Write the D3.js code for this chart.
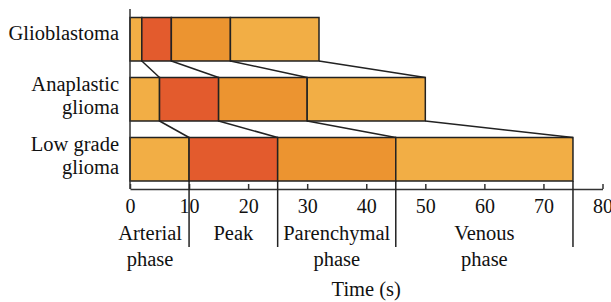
<!DOCTYPE html>
<html>
<head>
<meta charset="utf-8">
<script src="https://cdn.jsdelivr.net/npm/d3@7"></script>
<style>
  body { margin: 0; background: #fff; }
  svg text { font-family: "Liberation Serif", "Times New Roman", serif; fill: #111; }
</style>
</head>
<body>
<div id="chart"></div>
<script>
// tumour types (rows) and their label lines
const rows = ["Glioblastoma", "Anaplastic glioma", "Low grade glioma"];
const rowLabels = [["Glioblastoma"], ["Anaplastic", "glioma"], ["Low grade", "glioma"]];

// phase boundaries in seconds for each row: start, arterial end, peak end, parenchymal end, venous end
const glioblastoma = [0, 2, 7, 17, 32];
const anaplastic = [0, 5, 15, 30, 50];
const lowGrade = [0, 10, 25, 45, 75];
const boundaries = [glioblastoma, anaplastic, lowGrade];

// phases (bottom labels) and where the labels sit on the time axis
const phases = [["Arterial", "phase"], ["Peak"], ["Parenchymal", "phase"], ["Venous", "phase"]];
const phaseLabelAt = [3.4, 17.5, 35, 60];
const phaseColors = ["#f2ae45", "#e35b2d", "#ec9430", "#f2ae45"];

const xTicks = [0, 10, 20, 30, 40, 50, 60, 70, 80];

function createChart(htmlId = 'chart') {
    const W = 611, H = 302;
    const fs = "20.5px"; // label font size
    const svg = d3.select(`#${htmlId}`).append("svg")
        .attr("width", W).attr("height", H);

    const x = d3.scaleLinear().domain([0, 80]).range([130, 602.5]);
    const y = d3.scaleBand().domain(rows).range([17.5, 181]).paddingInner(0.275).paddingOuter(0);
    const axisY = 189;

    // segments per row
    rows.forEach((r, i) => {
        const b = boundaries[i];
        const segs = d3.range(4).map(k => ({ x0: b[k], x1: b[k + 1], c: phaseColors[k] }));
        svg.append("g").selectAll("rect")
            .data(segs)
            .enter().append("rect")
            .attr("x", d => x(d.x0))
            .attr("width", d => x(d.x1) - x(d.x0))
            .attr("y", y(r))
            .attr("height", y.bandwidth())
            .attr("fill", d => d.c)
            .attr("stroke", "#222")
            .attr("stroke-width", 1.5);
    });

    // connector lines between consecutive rows
    for (let i = 0; i < rows.length - 1; i++) {
        const top = boundaries[i], bot = boundaries[i + 1];
        svg.append("g").selectAll("line")
            .data(d3.range(1, 5))
            .enter().append("line")
            .attr("x1", k => x(top[k]))
            .attr("y1", y(rows[i]) + y.bandwidth())
            .attr("x2", k => x(bot[k]))
            .attr("y2", y(rows[i + 1]))
            .attr("stroke", "#222")
            .attr("stroke-width", 1.5);
    }

    // x axis with inward ticks
    const xAxis = svg.append("g")
        .attr("transform", `translate(0, ${axisY})`)
        .call(d3.axisBottom(x).tickValues(xTicks).tickSize(-5).tickSizeOuter(0));
    xAxis.select(".domain").attr("stroke", "#333").attr("stroke-width", 1.5);
    xAxis.selectAll(".tick line").attr("stroke", "#333").attr("stroke-width", 1.5);
    xAxis.selectAll(".tick text")
        .attr("y", 24).attr("dy", null)
        .style("font-size", "20px")
        .style("font-family", '"Liberation Serif", serif')
        .attr("fill", "#111");

    // y axis line (no ticks)
    svg.append("line")
        .attr("x1", x(0)).attr("x2", x(0))
        .attr("y1", 9).attr("y2", axisY)
        .attr("stroke", "#333").attr("stroke-width", 1.5);

    // phase separators below the bottom row
    const last = boundaries[boundaries.length - 1];
    svg.append("g").selectAll("line")
        .data(last.slice(1))
        .enter().append("line")
        .attr("x1", d => x(d)).attr("x2", d => x(d))
        .attr("y1", y(rows[rows.length - 1]) + y.bandwidth())
        .attr("y2", 247)
        .attr("stroke", "#222").attr("stroke-width", 1.5);

    // phase labels
    phases.forEach((lines, k) => {
        const t = svg.append("text")
            .attr("text-anchor", "middle")
            .style("font-size", fs);
        lines.forEach((ln, j) => {
            t.append("tspan").attr("x", x(phaseLabelAt[k])).attr("y", 240 + j * 25.5).text(ln);
        });
    });

    // row labels
    rows.forEach((r, i) => {
        const c = y(r) + y.bandwidth() / 2;
        const lines = rowLabels[i];
        const t = svg.append("text")
            .attr("text-anchor", "end")
            .style("font-size", fs);
        lines.forEach((ln, j) => {
            const base = lines.length === 1 ? c + 1 : c - 8 + j * 23;
            t.append("tspan").attr("x", 119).attr("y", base).text(ln);
        });
    });

    // axis title
    svg.append("text")
        .attr("x", (x(0) + x(80)) / 2)
        .attr("y", 296)
        .attr("text-anchor", "middle")
        .style("font-size", fs)
        .text("Time (s)");
}

createChart('chart');
</script>
</body>
</html>
